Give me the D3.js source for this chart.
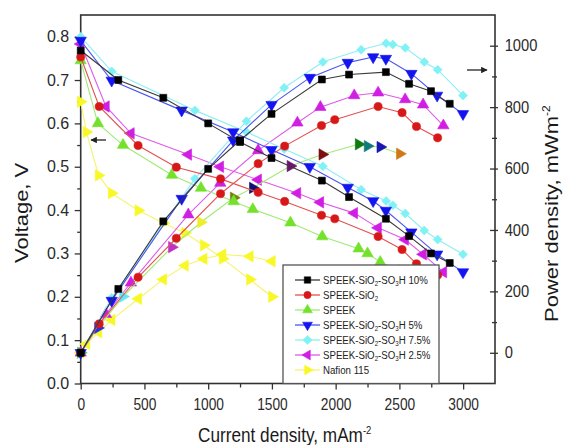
<!DOCTYPE html>
<html><head><meta charset="utf-8">
<script src="https://cdn.jsdelivr.net/npm/d3@7"></script>
<style>body{margin:0;background:#fff}svg{display:block}</style>
</head><body>
<svg id="c" width="566" height="445"></svg>
<script>
// ---------- data ----------
const seriesNames = ["SPEEK-SiO_2-SO_3H 10%", "SPEEK-SiO_2", "SPEEK", "SPEEK-SiO_2-SO_3H 5%", "SPEEK-SiO_2-SO_3H 7.5%", "SPEEK-SiO_2-SO_3H 2.5%", "Nafion 115"];

const current10 = [0, 295, 648, 1000, 1250, 1497, 1892, 2105, 2394, 2576, 2748, 2895];
const voltage10 = [0.768, 0.700, 0.659, 0.600, 0.557, 0.520, 0.468, 0.430, 0.380, 0.340, 0.300, 0.278];
const power10   = [0, 208, 428, 599, 692, 778, 890, 906, 914, 876, 852, 811];

const currentSiO2 = [0, 145, 450, 750, 1097, 1392, 1600, 1889, 1993, 2333, 2521, 2634, 2800];
const voltageSiO2 = [0.753, 0.639, 0.549, 0.499, 0.472, 0.441, 0.420, 0.388, 0.380, 0.339, 0.309, 0.276, 0.250];
const powerSiO2   = [0, 94, 246, 373, 518, 616, 673, 740, 759, 802, 782, 737, 700];

const currentSPEEK = [0, 135, 332, 715, 943, 1200, 1350, 1645, 1895, 2180, 2250, 2350, 2503];
const voltageSPEEK = [0.745, 0.600, 0.550, 0.481, 0.451, 0.420, 0.402, 0.371, 0.339, 0.311, 0.300, 0.280, 0.259];
const powerSPEEK   = [0, 81, 183, 344, 425, 505, 537, 608, 646, 679, 673, 670, 648];

const current5 = [0, 243, 792, 1196, 1497, 1797, 2095, 2294, 2394, 2594, 2796, 2999];
const voltage5 = [0.791, 0.699, 0.630, 0.580, 0.539, 0.500, 0.452, 0.421, 0.399, 0.349, 0.298, 0.257];
const power5   = [0, 170, 502, 692, 808, 896, 945, 963, 958, 909, 838, 778];

const current75 = [0, 243, 896, 1300, 1596, 1900, 2200, 2396, 2448, 2546, 2695, 2800, 2999];
const voltage75 = [0.800, 0.720, 0.630, 0.580, 0.541, 0.501, 0.447, 0.421, 0.411, 0.392, 0.353, 0.332, 0.298];
const power75   = [0, 179, 567, 754, 863, 947, 987, 1008, 1004, 993, 947, 922, 838];

const current25 = [0, 198, 394, 844, 1095, 1392, 1700, 1880, 2146, 2333, 2545, 2686, 2845];
const voltage25 = [0.783, 0.639, 0.577, 0.528, 0.500, 0.470, 0.439, 0.418, 0.393, 0.359, 0.332, 0.298, 0.257];
const power25   = [0, 126, 228, 450, 553, 659, 749, 800, 838, 847, 825, 808, 740];

const currentNafion = [0, 45, 140, 243, 452, 648, 818, 965, 1113, 1327, 1500];
const voltageNafion = [0.650, 0.580, 0.480, 0.439, 0.399, 0.370, 0.347, 0.319, 0.288, 0.240, 0.200];
const powerNafion   = [0, 29, 67, 107, 176, 239, 284, 306, 320, 314, 298];

const currentTicks = [0, 500, 1000, 1500, 2000, 2500, 3000];
const voltageTicks = [0, 0.1, 0.2, 0.3, 0.4, 0.5, 0.6, 0.7, 0.8];
const powerTicks = [0, 200, 400, 600, 800, 1000];

// ---------- styles ----------
const styles = [
  {mark:"#000000", line:"#3a3a3a", vShape:"square",  pShape:"square"},
  {mark:"#d81818", line:"#e45050", vShape:"circle",  pShape:"circle"},
  {mark:"#74e22c", line:"#9fea74", vShape:"up",      pShape:"right"},
  {mark:"#1414f0", line:"#4b55ee", vShape:"down",    pShape:"down"},
  {mark:"#80f2f6", line:"#8eeef4", vShape:"diamond", pShape:"diamond"},
  {mark:"#d01ee2", line:"#de5ce8", vShape:"left",    pShape:"up"},
  {mark:"#f8f828", line:"#f4f470", vShape:"right",   pShape:"left"}
];
// Origin colour cycle seen on the SPEEK power markers
const speekPowerColors = ["#30e030","#2030f0","#60e8f0","#c030c8","#eeee30","#7a7a10","#101070","#701070","#7a1010","#107a10","#107a7a","#1818b0","#d07818"];

const table = [
  [current10, voltage10, power10],
  [currentSiO2, voltageSiO2, powerSiO2],
  [currentSPEEK, voltageSPEEK, powerSPEEK],
  [current5, voltage5, power5],
  [current75, voltage75, power75],
  [current25, voltage25, power25],
  [currentNafion, voltageNafion, powerNafion]
].map((a, k) => ({
  name: seriesNames[k], style: styles[k],
  pts: a[0].map((c, i) => ({i: c, v: a[1][i], p: a[2][i], idx: i}))
}));

// ---------- layout ----------
const X0 = 80.7, X1 = 495, Y0 = 383.5, Y1 = 15;
const x  = d3.scaleLinear().domain([0, 3250]).range([X0, X1]);
const yV = d3.scaleLinear().domain([0, 0.85]).range([Y0, Y1]);
const yP = d3.scaleLinear().domain([-100, 1100]).range([Y0, Y1]);
const FONT = "'Liberation Sans', Arial, Helvetica, sans-serif";
const svg = d3.select("#c").style("font-family", FONT);

const shapes = {
  square:[d3.symbolSquare,48,0], circle:[d3.symbolCircle,52,0],
  up:[d3.symbolTriangle,56,0], down:[d3.symbolTriangle,56,180],
  left:[d3.symbolTriangle,56,-90], right:[d3.symbolTriangle,56,90],
  diamond:[d3.symbolSquare,40,45]
};
function marker(sel, shape, sz) {
  const s = shapes[shape];
  return sel.attr("d", d3.symbol(s[0], sz || s[1])()).attr("data-rot", s[2]);
}

// ---------- axes ----------
const axG = svg.append("g");
// left
const left = axG.append("g").attr("transform", `translate(${X0},0)`)
  .call(d3.axisLeft(yV).tickValues(voltageTicks).tickSize(6).tickPadding(0).tickFormat(d3.format(".1f")));
left.selectAll(".tick text").attr("x", -11.5).attr("font-size", 16).attr("fill", "#2a2a2a").attr("font-family", FONT);
axG.append("g").attr("transform", `translate(${X0},0)`)
  .call(d3.axisLeft(yV).tickValues(d3.range(0.05, 0.85, 0.1)).tickSize(3.5).tickFormat(""));
// bottom
const bottom = axG.append("g").attr("transform", `translate(0,${Y0})`)
  .call(d3.axisBottom(x).tickValues(currentTicks).tickSize(6).tickPadding(0).tickFormat(d3.format("d")));
bottom.selectAll(".tick text").attr("y", 26.5).attr("dy", null).attr("font-size", 16).attr("fill", "#2a2a2a")
  .attr("font-family", FONT).attr("transform", "scale(0.86,1)");
axG.append("g").attr("transform", `translate(0,${Y0})`)
  .call(d3.axisBottom(x).tickValues(d3.range(250, 3250, 500)).tickSize(4).tickFormat(""));
// right
const right = axG.append("g").attr("transform", `translate(${X1},0)`)
  .call(d3.axisRight(yP).tickValues(powerTicks).tickSize(6).tickPadding(0).tickFormat(d3.format("d")));
right.selectAll(".tick line").attr("x1", -5).attr("x2", 3);
right.selectAll(".tick text").attr("x", 10.5).attr("font-size", 16).attr("fill", "#2a2a2a").attr("font-family", FONT)
  .attr("transform", "scale(0.92,1)");
const rMinor = axG.append("g").attr("transform", `translate(${X1},0)`)
  .call(d3.axisRight(yP).tickValues(d3.range(100, 1100, 200)).tickSize(3).tickFormat(""));
rMinor.selectAll(".tick line").attr("x1", -3).attr("x2", 2);
axG.selectAll(".domain").remove();
axG.selectAll(".tick line").attr("stroke", "#333").attr("stroke-width", 1.3);

// frame
svg.append("rect").attr("x", X0).attr("y", Y1).attr("width", X1 - X0).attr("height", Y0 - Y1)
  .attr("fill", "none").attr("stroke", "#333").attr("stroke-width", 1.6);

// ---------- titles ----------
svg.append("text").attr("transform", "translate(28,263) scale(0.85,1) rotate(-90)")
  .attr("font-size", 22).attr("fill", "#1a1a1a").text("Voltage, V");

const rt = svg.append("text").attr("transform", "translate(558,322) scale(0.85,1) rotate(-90)")
  .attr("font-size", 22).attr("fill", "#1a1a1a");
rt.append("tspan").text("Power density, mWm");
rt.append("tspan").attr("font-size", 12).attr("dy", -9).text("-2");

const xt = svg.append("text").attr("transform", "translate(198,441.5) scale(0.86,1)")
  .attr("font-size", 20).attr("fill", "#1a1a1a");
xt.append("tspan").text("Current density, mAm");
xt.append("tspan").attr("font-size", 11).attr("dy", -8).text("-2");

// ---------- data marks ----------
const plot = svg.append("g");
const drawOrder = [6, 5, 4, 2, 1, 3, 0];
drawOrder.forEach(k => {
  const s = table[k], st = s.style;
  const g = plot.append("g");
  const lineV = d3.line().x(d => x(d.i)).y(d => yV(d.v));
  const lineP = d3.line().x(d => x(d.i)).y(d => yP(d.p));
  g.append("path").attr("d", lineV(s.pts)).attr("fill", "none").attr("stroke", st.line).attr("stroke-width", 1.1);
  g.append("path").attr("d", lineP(s.pts)).attr("fill", "none").attr("stroke", st.line).attr("stroke-width", 1.1);
  const pColor = d => (k === 2 ? speekPowerColors[d.idx % speekPowerColors.length] : st.mark);
  g.selectAll(null).data(s.pts).join("path")
    .call(sel => marker(sel, st.pShape))
    .attr("transform", function(d){ return `translate(${x(d.i)},${yP(d.p)}) rotate(${this.getAttribute("data-rot")})`; })
    .attr("fill", pColor).attr("stroke", pColor).attr("stroke-width", 0.6);
  g.selectAll(null).data(s.pts).join("path")
    .call(sel => marker(sel, st.vShape))
    .attr("transform", function(d){ return `translate(${x(d.i)},${yV(d.v)}) rotate(${this.getAttribute("data-rot")})`; })
    .attr("fill", st.mark).attr("stroke", st.mark).attr("stroke-width", 0.6);
});

// ---------- arrows ----------
const defs = svg.append("defs");
defs.append("marker").attr("id", "ah").attr("viewBox", "0 0 10 10").attr("refX", 9).attr("refY", 5)
  .attr("markerWidth", 6).attr("markerHeight", 5).attr("orient", "auto")
  .append("path").attr("d", "M0,0L10,5L0,10z").attr("fill", "#222");
svg.append("line").attr("x1", 106).attr("y1", 140).attr("x2", 91).attr("y2", 140)
  .attr("stroke", "#222").attr("stroke-width", 1.3).attr("marker-end", "url(#ah)");
svg.append("line").attr("x1", 467).attr("y1", 70).attr("x2", 487).attr("y2", 70)
  .attr("stroke", "#222").attr("stroke-width", 1.3).attr("marker-end", "url(#ah)");

// ---------- legend ----------
const lg = svg.append("g");
lg.append("rect").attr("x", 283).attr("y", 265).attr("width", 156).attr("height", Y0 - 265)
  .attr("fill", "#fff").attr("stroke", "#555").attr("stroke-width", 1.3);
table.forEach((s, k) => {
  const yy = 280 + 15 * k, st = s.style;
  lg.append("line").attr("x1", 295).attr("x2", 320).attr("y1", yy).attr("y2", yy)
    .attr("stroke", st.line).attr("stroke-width", 1.3);
  lg.append("path").call(sel => marker(sel, st.vShape, 42))
    .attr("transform", function(){ return `translate(307.5,${yy}) rotate(${this.getAttribute("data-rot")})`; })
    .attr("fill", st.mark).attr("stroke", st.mark).attr("stroke-width", 0.5);
  const t = lg.append("text").attr("transform", `translate(323,${yy + 3.8}) scale(0.88,1)`)
    .attr("font-size", 11).attr("fill", "#222");
  let pendingDy = 0;
  s.name.split(/_(\d)/).forEach((part, j) => {
    if (!part) return;
    if (j % 2 === 1) {
      t.append("tspan").attr("font-size", 7).attr("dy", 2.5).text(part);
      pendingDy = -2.5;
    } else {
      t.append("tspan").attr("dy", pendingDy || null).text(part);
      pendingDy = 0;
    }
  });
});
</script>
</body></html>
